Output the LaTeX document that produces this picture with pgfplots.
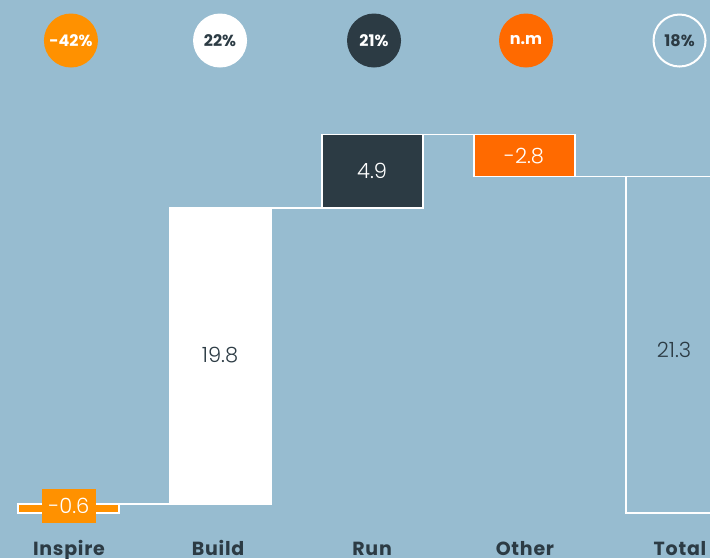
\documentclass[border=0pt]{standalone}
\usepackage{fontspec}
\setmainfont{Poppins}
\newfontfamily\catfont[LetterSpace=4]{Poppins}
\newfontfamily\lightfont{Poppins Light}
\usepackage{pgfplots}
\pgfplotsset{compat=1.18}
\definecolor{bg}{HTML}{97BCD0}
\definecolor{dk}{HTML}{2C3B44}
\definecolor{orA}{HTML}{FF9100}
\definecolor{orB}{HTML}{FF6A00}
\begin{document}
\begin{tikzpicture}
\begin{axis}[
  name=ax,
  scale only axis, width=710pt, height=558pt,
  xmin=-0.4507, xmax=4.2204, ymin=-3.01, ymax=34.31,
  hide axis,
  axis background/.style={fill=bg},
  clip=true,
]
% bars: x +/- 0.3322, from low to high
% Inspire 0 -> 0.6
\addplot[fill=orA, draw=white, line width=1.5pt] coordinates {(-0.3322,0) (0.3322,0) (0.3322,0.6) (-0.3322,0.6)} -- cycle;
% Build 0.6 -> 20.4
\addplot[fill=white, draw=white, line width=1.5pt] coordinates {(0.6678,0.6) (1.3322,0.6) (1.3322,20.4) (0.6678,20.4)} -- cycle;
% Run 20.4 -> 25.3
\addplot[fill=dk, draw=white, line width=1.5pt] coordinates {(1.6678,20.4) (2.3322,20.4) (2.3322,25.3) (1.6678,25.3)} -- cycle;
% Other 25.3 -> 22.5
\addplot[fill=orB, draw=white, line width=1.5pt] coordinates {(2.6678,22.5) (3.3322,22.5) (3.3322,25.3) (2.6678,25.3)} -- cycle;
% Total 0 -> 22.5
\addplot[fill=none, draw=white, line width=1.5pt] coordinates {(3.6678,0) (4.3322,0) (4.3322,22.5) (3.6678,22.5)} -- cycle;
% connectors
\addplot[draw=white, line width=1.5pt] coordinates {(0.3322,0.6) (0.6678,0.6)};
\addplot[draw=white, line width=1.5pt] coordinates {(1.3322,20.4) (1.6678,20.4)};
\addplot[draw=white, line width=1.5pt] coordinates {(2.3322,25.3) (2.6678,25.3)};
\addplot[draw=white, line width=1.5pt] coordinates {(3.3322,22.5) (3.6678,22.5)};
% value labels
\node[fill=orA, text=white, minimum width=54pt, minimum height=34pt, inner sep=0pt, font=\lightfont\fontsize{21}{21}\selectfont] at (axis cs:0.003,0.47) {-0.6};
\node[text=dk, font=\lightfont\fontsize{21}{21}\selectfont] at (axis cs:0.997,10.57) {19.8};
\node[text=white, font=\lightfont\fontsize{21}{21}\selectfont] at (axis cs:1.997,22.88) {4.9};
\node[text=white, font=\lightfont\fontsize{21}{21}\selectfont] at (axis cs:2.997,23.88) {-2.8};
\node[text=dk, font=\lightfont\fontsize{21}{21}\selectfont] at (axis cs:3.984,10.9) {21.3};
% circles
\node[circle, fill=orA, minimum size=54pt, inner sep=0pt, text=white, font=\bfseries\fontsize{16}{16}\selectfont] at (axis cs:0.016,31.6) {-42\%};
\node[circle, fill=white, minimum size=54pt, inner sep=0pt, text=dk, font=\bfseries\fontsize{16}{16}\selectfont] at (axis cs:0.997,31.6) {22\%};
\node[circle, fill=dk, minimum size=54pt, inner sep=0pt, text=white, font=\bfseries\fontsize{16}{16}\selectfont] at (axis cs:2.010,31.6) {21\%};
\node[circle, fill=orB, minimum size=54pt, inner sep=0pt, text=white, font=\bfseries\fontsize{16}{16}\selectfont] at (axis cs:3.010,31.6) {n.m};
\node[circle, fill=bg, draw=white, line width=2pt, minimum size=52pt, inner sep=0pt, text=dk, font=\bfseries\fontsize{16}{16}\selectfont] at (axis cs:4.020,31.6) {18\%};
% category labels
\node[anchor=base, text=dk, font=\catfont\bfseries\fontsize{19}{19}\selectfont] at (axis cs:0.003,-2.81) {Inspire};
\node[anchor=base, text=dk, font=\catfont\bfseries\fontsize{19}{19}\selectfont] at (axis cs:0.984,-2.81) {Build};
\node[anchor=base, text=dk, font=\catfont\bfseries\fontsize{19}{19}\selectfont] at (axis cs:1.997,-2.81) {Run};
\node[anchor=base, text=dk, font=\catfont\bfseries\fontsize{19}{19}\selectfont] at (axis cs:3.003,-2.81) {Other};
\node[anchor=base, text=dk, font=\catfont\bfseries\fontsize{19}{19}\selectfont] at (axis cs:4.023,-2.81) {Total};
\end{axis}
\pgfresetboundingbox
\path (ax.south west) rectangle (ax.north east);
\end{tikzpicture}
\end{document}
